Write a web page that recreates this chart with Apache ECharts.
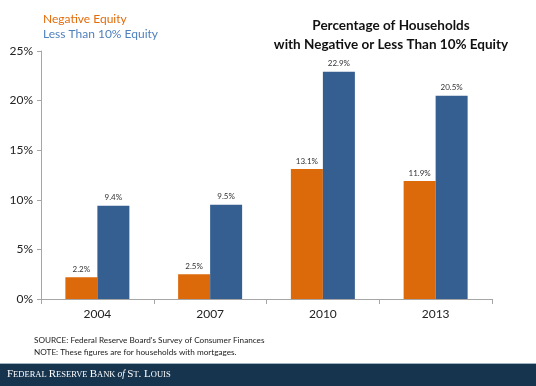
<!DOCTYPE html>
<html><head><meta charset="utf-8">
<script src="https://cdn.jsdelivr.net/npm/echarts@6/dist/echarts.min.js"></script>
<style>html,body{margin:0;padding:0;background:#fff}#c{width:536px;height:386px}</style>
</head><body><div id="c"></div>
<script>
const categories = ['2004', '2007', '2010', '2013'];
const negativeEquity = [2.2, 2.5, 13.1, 11.9];
const lessThan10 = [9.4, 9.5, 22.9, 20.5];
const yTicks = [0, 5, 10, 15, 20, 25];

const chart = echarts.init(document.getElementById('c'));
const font = 'Lato, "Open Sans", sans-serif';
chart.setOption({
  animation: false,
  textStyle: { fontFamily: font },
  grid: { left: 41, right: 44, top: 51, bottom: 87 },
  title: {
    text: 'Percentage of Households\nwith Negative or Less Than 10% Equity',
    top: 11, textAlign: 'center', left: 386,
    textStyle: { fontSize: 13.5, fontWeight: 'bold', color: '#111', lineHeight: 19, fontFamily: font }
  },
  legend: { show: false },
  xAxis: {
    type: 'category', data: categories,
    axisLine: { lineStyle: { color: '#a6a6a6' } },
    axisTick: { show: true, alignWithLabel: false, lineStyle: { color: '#a6a6a6' } },
    axisLabel: { color: '#222', fontSize: 12, margin: 9, fontFamily: font }
  },
  yAxis: {
    type: 'value', min: yTicks[0], max: yTicks[yTicks.length - 1], interval: 5,
    axisLine: { show: true, lineStyle: { color: '#a6a6a6' } },
    axisTick: { show: true, lineStyle: { color: '#a6a6a6' }, length: 4 },
    splitLine: { show: false },
    axisLabel: { color: '#222', fontSize: 12, margin: 8, formatter: v => v + '%', fontFamily: font }
  },
  series: [
    {
      name: 'Negative Equity', type: 'bar', data: negativeEquity, barWidth: 32, barGap: '0%',
      itemStyle: { color: '#dc6a0a' },
      label: { show: true, position: 'top', formatter: p => p.value.toFixed(1) + '%', fontSize: 8, color: '#333', distance: 4 }
    },
    {
      name: 'Less Than 10% Equity', type: 'bar', data: lessThan10, barWidth: 32,
      itemStyle: { color: '#365f91' },
      label: { show: true, position: 'top', formatter: p => p.value.toFixed(1) + '%', fontSize: 8, color: '#333', distance: 4 }
    }
  ],
  graphic: [
    { type: 'text', left: 43, top: 13, style: { text: 'Negative Equity', fill: '#e36c0a', font: '12px ' + font } },
    { type: 'text', left: 43, top: 28, style: { text: 'Less Than 10% Equity', fill: '#4f81bd', font: '12px ' + font } },
    { type: 'text', left: 34, top: 336, style: { text: "SOURCE: Federal Reserve Board's Survey of Consumer Finances", fill: '#222', font: '8.2px ' + font } },
    { type: 'text', left: 34, top: 348, style: { text: 'NOTE: These figures are for households with mortgages.', fill: '#222', font: '8.2px ' + font } },
    { type: 'rect', left: 0, top: 363, shape: { width: 536, height: 1 }, style: { fill: '#9fb3c4' } },
    { type: 'rect', left: 0, top: 364, shape: { width: 536, height: 22 }, style: { fill: '#17344f' } },
    { type: 'text', left: 7, top: 369, style: { rich: {
        a: { fontFamily: '"Liberation Serif", serif', fontSize: 11, fill: '#fff' },
        b: { fontFamily: '"Liberation Serif", serif', fontSize: 8.5, fill: '#fff' },
        i: { fontFamily: '"Liberation Serif", serif', fontSize: 9.5, fontStyle: 'italic', fill: '#fff' }
      }, text: '{a|F}{b|EDERAL }{a|R}{b|ESERVE }{a|B}{b|ANK }{i|of }{a|S}{b|T}{a|. L}{b|OUIS}' } }
  ]
});
</script></body></html>
